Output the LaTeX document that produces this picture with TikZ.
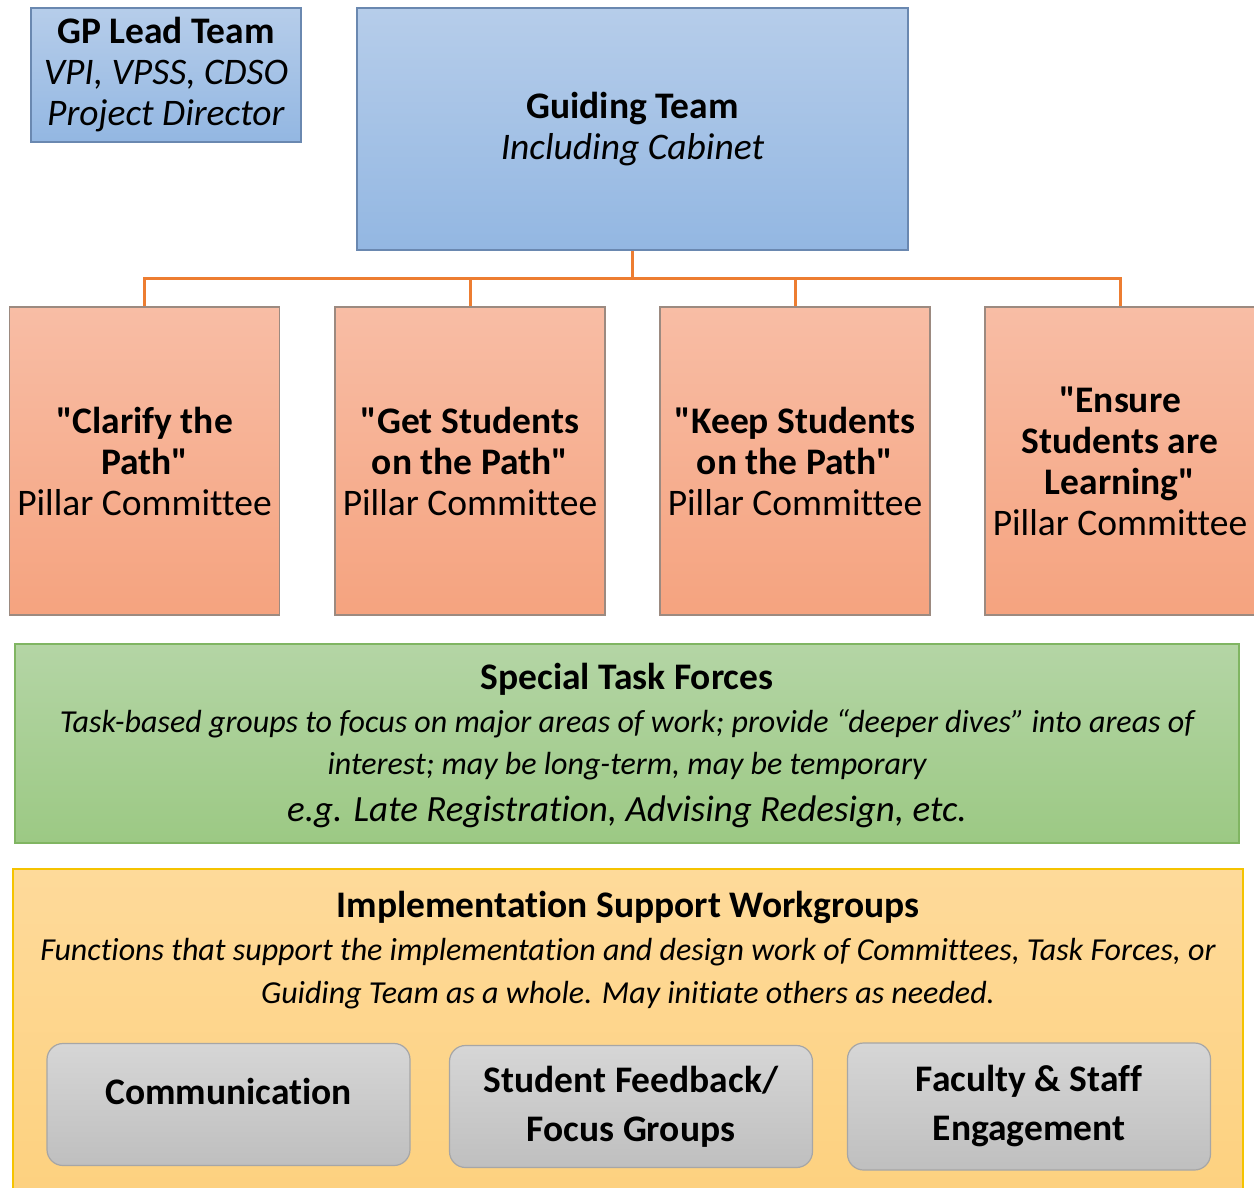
\documentclass[tikz,border=0pt]{standalone}
\usepackage{fontspec}
\setmainfont{Carlito}[Ligatures={TeXOff,CommonOff}]
\definecolor{blueTop}{HTML}{B6CDEA}
\definecolor{blueBot}{HTML}{93B7E2}
\definecolor{blueLine}{HTML}{6A88B0}
\definecolor{salTop}{HTML}{F8BDA5}
\definecolor{salBot}{HTML}{F5A37F}
\definecolor{salLine}{HTML}{9C8A80}
\definecolor{greenTop}{HTML}{B4D5A5}
\definecolor{greenBot}{HTML}{9CC984}
\definecolor{greenLine}{HTML}{80B562}
\definecolor{yelTop}{HTML}{FEDA9A}
\definecolor{yelBot}{HTML}{FDD17F}
\definecolor{yelLine}{HTML}{F5C300}
\definecolor{grayTop}{HTML}{D6D6D6}
\definecolor{grayBot}{HTML}{BFBFBF}
\definecolor{grayLine}{HTML}{A6A6A6}
\definecolor{orangeLine}{HTML}{ED7D31}
\begin{document}
\begin{tikzpicture}[x=1pt,y=-1pt,
  box/.style={rectangle, inner sep=0pt, align=center, line width=1.2pt},
  bluebox/.style={box, draw=blueLine, top color=blueTop, bottom color=blueBot},
  pillar/.style={box, draw=salLine, top color=salTop, bottom color=salBot, minimum width=270pt, minimum height=308pt, font=\fontsize{37.5}{41}\selectfont},
  greybox/.style={box, draw=grayLine, top color=grayTop, bottom color=grayBot, rounded corners=16pt, minimum width=363pt, minimum height=122pt, font=\fontsize{37.5}{49}\selectfont\bfseries},
  conn/.style={draw=orangeLine, line width=3pt},
  txt/.style={inner sep=0pt, align=center}
]
\useasboundingbox (0,0) rectangle (1254,1188);
% top boxes
\node[bluebox, minimum width=270pt, minimum height=134pt, font=\fontsize{37.5}{41}\selectfont] (lead) at (166,75)
  {\textbf{GP Lead Team}\\ \textit{VPI, VPSS, CDSO}\\ \textit{Project Director}};
\node[bluebox, minimum width=551pt, minimum height=242pt, font=\fontsize{37.5}{41}\selectfont] (guide) at (632.5,129)
  {\textbf{Guiding Team}\\ \textit{Including Cabinet}};
% pillars
\node[pillar] (p1) at (144.5,461) {\textbf{"Clarify the}\\ \textbf{Path"}\\ Pillar Committee};
\node[pillar] (p2) at (470,461) {\textbf{"Get Students}\\ \textbf{on the Path"}\\ Pillar Committee};
\node[pillar] (p3) at (795,461) {\textbf{"Keep Students}\\ \textbf{on the Path"}\\ Pillar Committee};
\node[pillar] (p4) at (1120,461) {\textbf{"Ensure}\\ \textbf{Students are}\\ \textbf{Learning"}\\ Pillar Committee};
% connectors
\coordinate (bus) at (632.5,278);
\draw[conn] (guide.south) -- (bus);
\draw[conn] (p1.north) |- (bus) -| (p4.north);
\draw[conn] (p2.north) -- (p2.north |- bus);
\draw[conn] (p3.north) -- (p3.north |- bus);
% green
\node[box, draw=greenLine, top color=greenTop, bottom color=greenBot, minimum width=1224pt, minimum height=199pt] (stf) at (627,743.5) {};
\node[txt, font=\fontsize{37.5}{40}\selectfont\bfseries] (stft) at (627,679) {Special Task Forces};
\node[txt, font=\fontsize{32}{42}\selectfont\itshape] (stfd) at (627,745) {Task-based groups to focus on major areas of work; provide “deeper dives” into areas of\\ interest; may be long-term, may be temporary};
\node[txt, font=\fontsize{37}{40}\selectfont\itshape] (stfe) at (627,812) {e.g. Late Registration, Advising Redesign, etc.};
% yellow
\node[box, draw=yelLine, top color=yelTop, bottom color=yelBot, minimum width=1230pt, minimum height=326pt] (isw) at (628,1032) {};
\node[txt, font=\fontsize{37.5}{40}\selectfont\bfseries] (iswt) at (628,908) {Implementation Support Workgroups};
\node[txt, font=\fontsize{32}{43}\selectfont\itshape] (iswd) at (628,973.5) {Functions that support the implementation and design work of Committees, Task Forces, or\\ Guiding Team as a whole. May initiate others as needed.};
% grey boxes
\node[greybox, text height=22pt, text depth=22pt] (g1) at (228.5,1104.5) {Communication};
\node[greybox] (g2) at (631,1106.5) {Student Feedback/\\ Focus Groups};
\node[greybox, minimum height=127pt] (g3) at (1029,1106.5) {Faculty \& Staff\\ Engagement};
\end{tikzpicture}
\end{document}
